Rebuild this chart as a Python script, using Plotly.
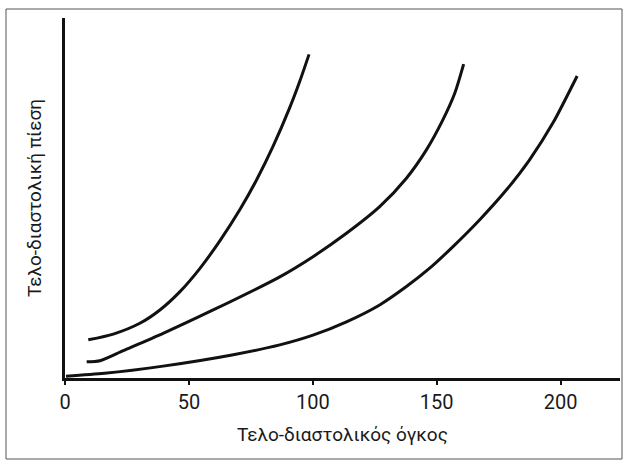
import plotly.graph_objects as go

# Curve data (end-diastolic volume vs end-diastolic pressure, arbitrary pressure units)
curve1_x = [9.4, 19.5, 30.2, 38.3, 46.4, 54.4, 62.5, 70.6, 77.3, 84.0, 90.7, 94.8, 98.5]
curve1_y = [10.6, 12.2, 15.2, 18.9, 24.0, 30.4, 38.1, 46.8, 55.0, 64.4, 75.1, 82.5, 89.9]

curve2_x = [8.75, 14.1, 23.5, 39.6, 59.8, 86.7, 100.1, 113.6, 127.0, 137.8, 145.8, 152.5, 157.3, 160.9]
curve2_y = [4.5, 4.8, 7.6, 12.4, 18.9, 28.1, 33.7, 40.2, 47.6, 55.5, 63.3, 71.7, 79.1, 87.2]

curve3_x = [0.4, 16.0, 39.6, 67.4, 86.7, 100.1, 113.6, 127.0, 137.8, 147.2, 156.6, 167.3, 178.1, 187.5, 196.9, 206.7]
curve3_y = [0.5, 1.3, 3.3, 6.4, 9.2, 11.9, 15.6, 20.3, 25.4, 30.5, 36.5, 43.9, 52.2, 60.6, 70.8, 83.9]

x_ticks = [0, 50, 100, 150, 200]
x_title = "Τελο-διαστολικός όγκος"
y_title = "Τελο-διαστολική πίεση"

FONT = "Roboto, Liberation Sans, sans-serif"

fig = go.Figure()
for xs, ys in [(curve1_x, curve1_y), (curve2_x, curve2_y), (curve3_x, curve3_y)]:
    fig.add_trace(go.Scatter(
        x=xs, y=ys, mode="lines",
        line=dict(color="#111111", width=3, shape="spline", smoothing=0.7),
        showlegend=False, hoverinfo="skip",
    ))

W, H = 626, 460
ml, mr, mt, mb = 65, 6, 18, 82
pw, ph = W - ml - mr, H - mt - mb

fig.update_layout(
    width=W, height=H,
    margin=dict(l=ml, r=mr, t=mt, b=mb, autoexpand=False),
    paper_bgcolor="white", plot_bgcolor="white",
    font=dict(family=FONT, color="#1a1a1a"),
    xaxis=dict(
        range=[0, 224], tickvals=x_ticks, ticktext=[str(v) for v in x_ticks],
        showline=True, linecolor="#111111", linewidth=3,
        ticks="outside", ticklen=4, tickwidth=2, tickcolor="#111111",
        showgrid=False, zeroline=False, automargin=False,
        tickfont=dict(size=20, family=FONT),
        title=dict(text=x_title, font=dict(size=19, family=FONT), standoff=15),
    ),
    yaxis=dict(
        range=[0, 100], showticklabels=False, ticks="",
        showline=True, linecolor="#111111", linewidth=3,
        showgrid=False, zeroline=False, automargin=False,
        title=dict(text=y_title, font=dict(size=19, family=FONT), standoff=16),
    ),
    shapes=[dict(
        type="rect", xref="paper", yref="paper",
        x0=(6 - ml) / pw, x1=(622 - ml) / pw,
        y0=1 - (459 - mt) / ph, y1=1 - (9 - mt) / ph,
        line=dict(color="#555555", width=1), layer="below",
    )],
)

fig.write_html(
    "out.html",
    config={"displayModeBar": False},
    post_script="document.body.style.margin='0';document.body.style.overflow='hidden';",
)
